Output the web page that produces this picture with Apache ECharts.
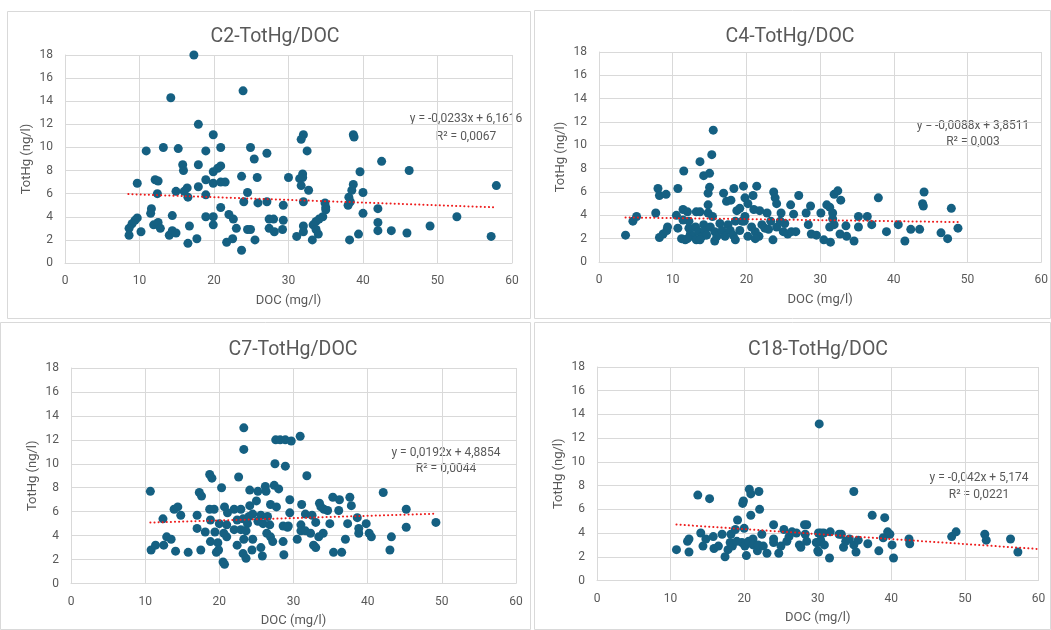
<!DOCTYPE html>
<html>
<head>
<meta charset="utf-8">
<script src="https://cdn.jsdelivr.net/npm/echarts@6/dist/echarts.min.js"></script>
<style>
  html, body { margin: 0; padding: 0; background: #fff; }
  #main { width: 1051px; height: 630px; }
</style>
</head>
<body>
<div id="main"></div>
<script>
// C2
const c2Doc = [17.3,23.9,14.2,17.9,19.9,10.9,13.2,15.2,18.9,20.9,24.9,27.1,25.4,15.8,15.9,17.9,20.9,20.5,19.9,18.9,23.7,25.8,12.1,12.5,9.7,19.9,20.9,21.5,17.9,16.4,16.0,14.9,12.4,18.9,24.5,16.5,24.0,25.9,27.1,11.6,11.5,20.9,22.0,22.6,14.4,18.9,19.9,9.7,9.4,9.0,8.6,8.6,10.2,11.9,12.5,12.8,14.0,14.4,14.9,16.7,16.5,17.7,19.9,23.0,24.5,24.9,21.7,22.5,23.7,25.5,27.4,28.0,27.4,28.1,29.2,29.3,29.3,
  32.0,31.7,32.5,38.7,38.8,42.5,46.2,30.0,31.9,31.9,31.5,31.7,32.7,39.6,38.7,38.5,40.0,57.9,32.0,34.9,35.0,35.0,38.1,38.3,38.0,34.6,34.1,33.7,33.3,33.7,34.0,33.2,32.0,32.0,31.1,40.0,39.4,38.2,42.0,42.0,42.0,43.8,45.9,49.0,52.6,57.2];
const c2Hg = [18.0,14.9,14.3,12.0,11.1,9.7,10.0,9.9,9.7,10.0,10.0,9.5,9.0,8.5,8.0,8.5,8.4,8.2,7.9,7.2,7.5,7.4,7.2,7.1,6.9,6.9,7.0,7.0,6.6,6.5,6.2,6.2,6.0,5.9,6.1,5.7,5.3,5.2,5.3,4.7,4.3,4.8,4.2,3.8,4.1,4.0,4.0,3.9,3.7,3.4,3.0,2.4,2.7,3.3,3.5,3.0,2.4,2.8,2.6,3.2,1.7,2.1,3.3,3.0,2.9,2.9,1.8,2.1,1.1,2.0,3.8,3.8,3.0,2.7,2.9,3.7,5.0,
  11.1,10.7,9.7,11.1,10.9,8.8,8.0,7.4,7.7,7.4,7.3,6.7,6.3,7.9,6.8,6.3,6.1,6.7,5.3,5.2,4.8,4.6,5.7,5.3,5.0,4.0,3.8,3.6,3.3,2.9,2.5,2.0,3.2,2.7,2.3,4.3,2.5,2.0,4.7,3.5,2.8,2.8,2.6,3.2,4.0,2.3];

// C4
const c4Doc = [3.6,4.6,5.1,7.7,8.0,8.2,9.1,8.2,8.7,9.2,9.3,10.5,10.7,10.7,11.5,11.4,12.0,11.4,11.2,11.7,13.2,13.7,13.7,14.2,15.0,15.5,15.3,15.0,14.8,14.8,14.8,15.4,16.9,17.3,17.9,18.3,18.7,19.6,19.8,20.2,20.9,21.4,21.0,21.8,22.8,23.7,23.9,24.1,24.7,26.0,27.1,26.4,28.1,28.7,28.4,28.8,29.5,23.6,
  12.2,12.4,12.7,13.1,13.5,14.0,14.2,14.4,14.6,15.1,15.7,15.7,16.0,16.4,16.7,17.1,17.5,17.8,18.2,18.5,19.1,19.7,20.2,20.7,21.2,21.7,22.1,22.5,23.0,23.3,24.1,24.6,25.0,25.6,26.1,26.7,19.4,12.0,13.2,13.7,12.2,18.5,21.2,19.8,19.1,25.2,
  30.1,30.9,31.3,31.7,31.9,32.4,32.8,31.7,31.9,31.3,30.5,31.4,32.7,33.6,33.5,34.6,35.2,35.2,36.4,37.0,37.9,39.0,40.6,41.5,42.3,43.5,44.1,43.9,44.0,46.4,47.3,47.8,48.7];
const c4Hg = [2.3,3.5,3.9,4.2,6.3,5.7,5.8,2.1,2.4,2.7,3.0,4.0,6.3,2.9,7.8,4.5,4.3,3.6,2.0,1.9,4.3,4.3,8.6,7.4,7.6,11.3,9.2,6.4,5.9,4.9,4.2,3.9,5.9,5.2,5.3,6.3,4.4,6.5,5.5,5.0,5.7,6.5,4.5,4.4,4.2,6.0,5.5,5.0,4.2,4.9,5.7,4.1,4.2,4.8,3.2,2.4,2.3,1.9,
  2.9,2.4,2.2,3.0,2.6,2.2,3.2,2.7,2.3,3.0,2.6,1.8,2.2,3.3,2.7,2.2,3.2,2.7,2.3,3.5,2.7,3.5,2.2,3.0,2.6,2.2,3.2,2.9,2.8,3.5,3.0,3.5,2.6,2.4,2.6,2.6,3.5,2.0,1.9,1.9,3.5,1.9,2.0,3.9,4.6,3.3,
  4.2,4.9,4.7,4.2,5.8,6.1,5.3,3.7,3.2,3.0,1.9,1.7,2.4,2.2,3.1,1.8,3.9,3.0,3.9,3.2,5.5,2.6,3.2,1.8,2.8,2.8,6.0,5.0,4.8,2.5,2.0,4.6,2.9];

// C7
const c7Doc = [10.7,10.8,11.4,12.5,12.4,12.9,13.5,14.1,13.9,14.4,14.8,15.8,17.0,17.0,17.5,17.3,17.6,18.7,19.0,18.7,19.3,18.8,18.1,19.4,18.8,19.8,19.6,19.9,20.5,20.7,20.3,20.7,21.1,20.0,21.0,22.0,22.6,23.3,23.3,24.1,25.2,26.2,26.3,27.4,28.0,27.6,28.2,28.9,27.5,28.9,22.9,24.1,25.0,22.4,23.2,24.0,24.5,25.6,26.5,26.9,27.7,22.0,22.9,23.8,23.6,25.2,25.9,26.8,23.3,24.5,22.4,23.2,23.6,24.4,25.6,25.8,26.4,26.9,27.2,28.6,28.7,28.6,29.3,29.5,29.5,21.0,20.6,
  29.7,30.9,31.8,31.1,31.6,32.5,33.5,33.7,34.1,34.6,35.3,36.2,36.1,37.6,37.8,42.1,45.2,45.2,49.2,29.2,31.0,31.0,31.6,32.3,33.0,34.0,34.9,33.4,32.7,33.0,30.5,35.4,36.5,37.0,37.3,38.6,38.8,38.8,39.8,40.2,40.5,43.2,43.0];
const c7Hg = [7.7,2.8,3.2,3.2,5.4,3.9,3.7,2.7,6.2,6.4,5.7,2.6,5.7,4.6,2.8,7.6,7.3,9.1,8.8,6.2,6.2,5.3,4.3,4.3,3.5,3.4,2.6,2.8,1.8,1.6,8.0,6.4,5.9,5.0,4.9,6.2,8.9,13.0,11.2,7.8,7.7,8.1,7.7,8.2,7.9,12.0,12.0,12.0,10.0,9.8,6.2,6.5,6.9,5.3,5.4,5.6,5.8,5.7,5.6,6.6,6.4,4.5,4.5,5.0,4.4,5.2,5.0,4.9,3.7,3.7,3.2,2.5,2.1,2.8,3.0,2.3,4.2,3.9,3.5,3.5,2.4,4.8,4.8,5.9,7.0,3.9,4.2,
  11.9,12.3,9.0,6.6,5.8,5.7,6.7,6.4,6.2,6.1,7.2,7.0,6.1,7.2,6.5,7.6,6.2,4.7,5.1,4.7,4.9,4.4,4.4,4.2,5.1,4.2,5.0,3.9,3.2,3.0,3.7,2.6,2.6,3.7,5.0,5.5,4.6,4.2,5.0,4.2,3.9,3.9,2.8];

// C18
const c18Doc = [10.8,12.5,12.3,12.5,13.7,15.3,14.1,14.4,14.8,15.8,15.9,16.5,17.0,17.4,17.8,18.1,18.2,18.4,18.8,19.1,19.8,19.9,20.7,20.9,22.0,20.9,22.1,20.0,19.7,20.1,20.3,20.6,21.2,21.2,21.8,21.9,22.4,23.1,24.0,24.0,24.0,24.7,25.0,25.4,25.8,26.1,26.5,27.1,27.5,27.7,28.2,28.5,28.3,28.5,29.8,30.0,30.2,30.1,22.6,19.0,
  30.4,30.8,30.0,30.4,30.9,30.1,31.6,31.7,32.9,33.2,33.5,33.8,34.3,34.9,34.9,35.2,35.5,36.8,37.4,38.3,38.9,39.1,39.5,39.8,40.1,40.3,42.4,42.5,48.2,48.8,52.7,52.9,56.2,57.2];
const c18Hg = [2.6,2.4,3.3,3.5,7.2,6.9,4.0,2.9,3.5,3.7,2.7,2.9,3.9,2.0,2.6,3.2,3.9,2.9,4.3,5.1,6.5,6.7,7.7,7.3,7.5,5.5,6.0,4.4,3.2,2.9,2.1,3.3,3.5,3.0,2.5,3.0,3.9,2.3,4.7,3.5,3.2,2.3,2.9,4.3,3.3,3.7,4.1,4.0,3.0,2.8,4.7,4.7,3.9,3.3,3.2,2.5,13.2,4.0,2.9,3.3,
  4.0,4.0,3.2,3.4,3.0,2.4,1.9,4.1,3.9,3.9,2.8,3.3,3.5,7.5,3.0,2.4,3.4,3.1,5.5,2.5,3.6,5.3,4.1,3.9,3.0,1.9,3.5,3.1,3.7,4.1,3.9,3.4,3.5,2.4];

// trendlines (Excel linear fits) : slope, intercept, x range
const trendSlope = [-0.0233, -0.0088, 0.0192, -0.042];
const trendIntercept = [6.1616, 3.8511, 4.8854, 5.174];
const trendFrom = [8.5, 3.6, 10.7, 10.8];
const trendTo = [57.9, 48.7, 49.2, 60];
const trendEq = ['y = -0,0233x + 6,1616', 'y = -0,0088x + 3,8511', 'y = 0,0192x + 4,8854', 'y = -0,042x + 5,174'];
const trendR2 = ['R² = 0,0067', 'R² = 0,003', 'R² = 0,0044', 'R² = 0,0221'];

const titles = ['C2-TotHg/DOC', 'C4-TotHg/DOC', 'C7-TotHg/DOC', 'C18-TotHg/DOC'];
const xTicks = [0, 10, 20, 30, 40, 50, 60];
const yTicks = [0, 2, 4, 6, 8, 10, 12, 14, 16, 18];

const docs = [c2Doc, c4Doc, c7Doc, c18Doc];
const hgs = [c2Hg, c4Hg, c7Hg, c18Hg];

const FONT = 'Roboto, "Noto Sans", sans-serif';
const TXT = '#595959';
const GRIDLINE = '#d9d9d9';
const DOT = '#156082';

// layout per panel
const grids = [
  { left: 65, top: 55, width: 447, height: 208 },
  { left: 599, top: 52, width: 445, height: 210 },
  { left: 71, top: 368, width: 445, height: 215.5 },
  { left: 597, top: 367, width: 441.5, height: 213.5 }
];
const panels = [
  { x: 7.5, y: 11.5, w: 523, h: 307 },
  { x: 534.5, y: 10.5, w: 516, h: 308 },
  { x: 0.5, y: 322.5, w: 530, h: 307 },
  { x: 534.5, y: 322.5, w: 516, h: 307 }
];
const titlePos = [[275, 37], [790, 37], [293, 350], [818, 350]];
const eqPos = [[466, 119, 137], [973, 126, 142], [446, 453, 469], [979, 478, 495]];

const chart = echarts.init(document.getElementById('main'), null, { renderer: 'canvas' });

const xAxis = [], yAxis = [], series = [], graphic = [];
for (let i = 0; i < 4; i++) {
  xAxis.push({
    gridIndex: i, type: 'value', min: 0, max: 60, interval: 10,
    name: 'DOC (mg/l)', nameLocation: 'middle', nameGap: 31,
    nameTextStyle: { color: TXT, fontSize: 13, fontFamily: FONT },
    axisLine: { show: true, onZero: false, lineStyle: { color: GRIDLINE } },
    axisTick: { show: false },
    axisLabel: { color: TXT, fontSize: 12, fontFamily: FONT, margin: 12 },
    splitLine: { show: true, lineStyle: { color: GRIDLINE, width: 1 } }
  });
  yAxis.push({
    gridIndex: i, type: 'value', min: 0, max: 18, interval: 2,
    name: 'TotHg (ng/l)', nameLocation: 'middle', nameGap: 32,
    nameTextStyle: { color: TXT, fontSize: 13, fontFamily: FONT },
    axisLine: { show: true, onZero: false, lineStyle: { color: GRIDLINE } },
    axisTick: { show: false },
    axisLabel: { color: TXT, fontSize: 12, fontFamily: FONT, margin: 12 },
    splitLine: { show: true, lineStyle: { color: GRIDLINE, width: 1 } }
  });
  series.push({
    type: 'scatter', xAxisIndex: i, yAxisIndex: i,
    symbolSize: 9,
    itemStyle: { color: DOT, opacity: 1 },
    data: docs[i].map((d, k) => [d, hgs[i][k]]),
    z: 2
  });
  const a = trendFrom[i], b = trendTo[i];
  series.push({
    type: 'line', xAxisIndex: i, yAxisIndex: i,
    symbol: 'none', silent: true,
    lineStyle: { color: '#ee1c1c', width: 2, type: [0.1, 4], cap: 'round' },
    data: [[a, trendSlope[i] * a + trendIntercept[i]], [b, trendSlope[i] * b + trendIntercept[i]]],
    z: 3
  });
  const p = panels[i];
  graphic.push({
    type: 'rect', shape: { x: p.x, y: p.y, width: p.w, height: p.h },
    style: { fill: null, stroke: GRIDLINE, lineWidth: 1 }, silent: true, z: -1
  });
  graphic.push({
    type: 'text', x: titlePos[i][0], y: titlePos[i][1],
    style: { text: titles[i], font: '19.5px ' + FONT, fill: TXT, align: 'center', verticalAlign: 'middle' }
  });
  graphic.push({
    type: 'text', x: eqPos[i][0], y: eqPos[i][1],
    style: { text: trendEq[i], font: '12px ' + FONT, fill: TXT, align: 'center', verticalAlign: 'middle' }
  });
  graphic.push({
    type: 'text', x: eqPos[i][0], y: eqPos[i][2],
    style: { text: trendR2[i], font: '12px ' + FONT, fill: TXT, align: 'center', verticalAlign: 'middle' }
  });
}

chart.setOption({
  backgroundColor: '#fff',
  animation: false,
  grid: grids.map(g => Object.assign({ containLabel: false }, g)),
  xAxis: xAxis,
  yAxis: yAxis,
  series: series,
  graphic: graphic
});
</script>
</body>
</html>
